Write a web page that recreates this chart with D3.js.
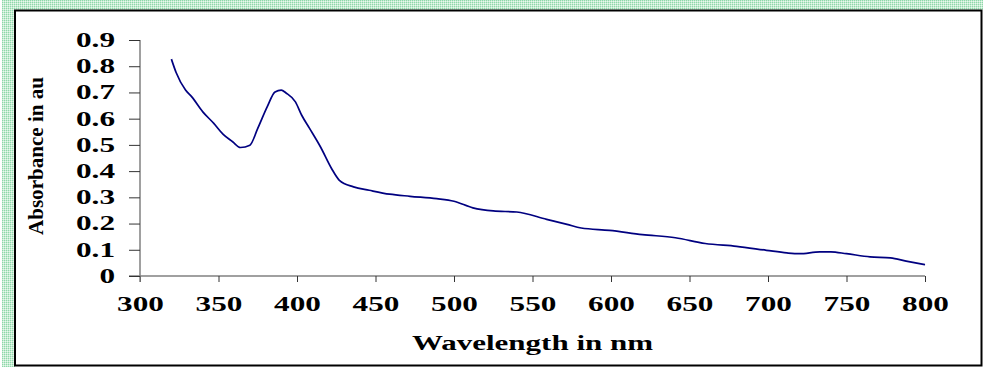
<!DOCTYPE html>
<html>
<head>
<meta charset="utf-8">
<script src="https://cdn.jsdelivr.net/npm/d3@7"></script>
<style>
  body { margin: 0; background: #fff; }
  svg { display: block; }
  text { font-family: "Liberation Serif", "Times New Roman", serif; font-weight: bold; }
</style>
</head>
<body>
<div id="chart"></div>
<script>
// wavelength (nm) and absorbance
const wavelength = [320, 323, 329, 333, 340, 347, 353, 359, 364, 370, 375, 381, 386, 390, 393, 399, 403, 408, 415, 422,
  427, 436, 446, 459, 472, 489, 500, 512, 525, 540, 559, 572, 581, 599, 620, 641, 660, 680, 699, 712,
  720, 733, 740, 750, 765, 778, 788, 800];
const absorbance = [0.827, 0.776, 0.709, 0.683, 0.626, 0.582, 0.54, 0.512, 0.49, 0.499, 0.563, 0.645, 0.702, 0.709, 0.698, 0.664, 0.613, 0.563, 0.492, 0.41,
  0.365, 0.34, 0.327, 0.312, 0.304, 0.295, 0.285, 0.26, 0.248, 0.244, 0.216, 0.197, 0.183, 0.174, 0.158, 0.146, 0.124, 0.113, 0.098, 0.088,
  0.085, 0.092, 0.092, 0.085, 0.073, 0.069, 0.057, 0.043];
const xTicks = [300, 350, 400, 450, 500, 550, 600, 650, 700, 750, 800];
const yTicks = [0, 0.1, 0.2, 0.3, 0.4, 0.5, 0.6, 0.7, 0.8, 0.9];

const W = 983, H = 367;
const plot = { left: 140, right: 925, top: 40, bottom: 276 };
const stretch = 1.56; // text in the picture is drawn wider than normal

const svg = d3.select('#chart').append('svg').attr('width', W).attr('height', H);

// stretch text sideways like the original
const widen = sel => sel.each(function () {
  const w = this.getComputedTextLength();
  d3.select(this).attr('textLength', w * stretch).attr('lengthAdjust', 'spacingAndGlyphs');
});

// green checkered frame on left and top
const defs = svg.append('defs');
const pat = defs.append('pattern').attr('id', 'chk').attr('width', 2).attr('height', 2)
  .attr('patternUnits', 'userSpaceOnUse');
pat.append('rect').attr('width', 2).attr('height', 2).attr('fill', '#c6ecd2');
pat.append('rect').attr('width', 1).attr('height', 1).attr('fill', '#8fd8aa');
pat.append('rect').attr('x', 1).attr('y', 1).attr('width', 1).attr('height', 1).attr('fill', '#eaf8ee');

svg.append('rect').attr('x', 2).attr('y', 0).attr('width', W - 2).attr('height', 10).attr('fill', 'url(#chk)');
svg.append('rect').attr('x', 2).attr('y', 0).attr('width', 13).attr('height', H).attr('fill', 'url(#chk)');

// chart area border
svg.append('rect').attr('x', 15).attr('y', 10.5).attr('width', 966.5).attr('height', 355)
  .attr('fill', '#fff').attr('stroke', '#000').attr('stroke-width', 2);

const x = d3.scaleLinear().domain([300, 800]).range([plot.left, plot.right]);
const y = d3.scaleLinear().domain([0, 0.9]).range([plot.bottom, plot.top]);

// x axis
const xAxis = svg.append('g').attr('transform', `translate(0,${plot.bottom})`)
  .call(d3.axisBottom(x).tickValues(xTicks).tickSize(6).tickPadding(15).tickFormat(d3.format('d')));
xAxis.select('.domain').attr('stroke', '#808080').attr('stroke-width', 1.5)
  .attr('d', `M${plot.left - 11},0H${plot.right}`);
xAxis.selectAll('.tick line').attr('stroke', '#333');
xAxis.selectAll('.tick text').attr('font-size', 20).attr('fill', '#000')
  .style('font-family', '"Liberation Serif", serif').style('font-weight', 'bold')
  .call(widen);

// y axis
const yAxis = svg.append('g').attr('transform', `translate(${plot.left},0)`)
  .call(d3.axisLeft(y).tickValues(yTicks).tickSize(11).tickPadding(14)
    .tickFormat(d => d === 0 ? '0' : d3.format('.1f')(d)));
yAxis.select('.domain').attr('stroke', '#808080').attr('stroke-width', 1.5)
  .attr('d', `M0,${plot.top}V${plot.bottom + 6}`);
yAxis.selectAll('.tick line').attr('stroke', '#333');
yAxis.selectAll('.tick text').attr('font-size', 20).attr('fill', '#000')
  .style('font-family', '"Liberation Serif", serif').style('font-weight', 'bold')
  .call(widen);

// the curve
const line = d3.line()
  .x((d, i) => x(wavelength[i]))
  .y(d => y(d))
  .curve(d3.curveMonotoneX);
svg.append('path').datum(absorbance)
  .attr('d', line)
  .attr('fill', 'none')
  .attr('stroke', '#000080')
  .attr('stroke-width', 1.7);

// axis titles
svg.append('text')
  .attr('x', (plot.left + plot.right) / 2).attr('y', 350)
  .attr('text-anchor', 'middle').attr('font-size', 20)
  .attr('textLength', 241).attr('lengthAdjust', 'spacingAndGlyphs')
  .text('Wavelength in nm');

svg.append('text')
  .attr('transform', 'translate(43,156) rotate(-90)')
  .attr('text-anchor', 'middle').attr('font-size', 22)
  .attr('textLength', 158).attr('lengthAdjust', 'spacingAndGlyphs')
  .text('Absorbance in au');
</script>
</body>
</html>
